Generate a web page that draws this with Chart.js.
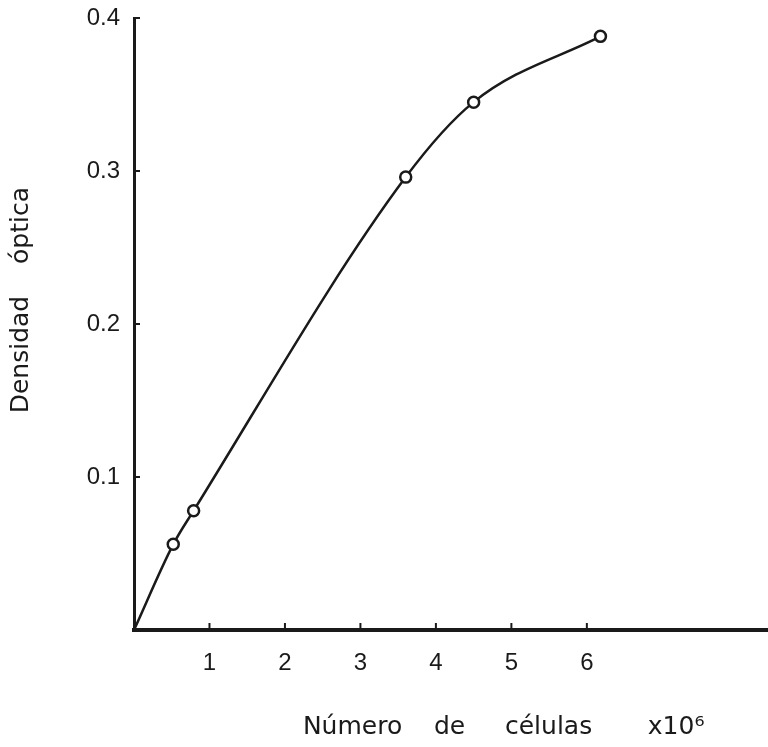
<!DOCTYPE html>
<html>
<head>
<meta charset="utf-8">
<script src="https://cdn.jsdelivr.net/npm/chart.js@4/dist/chart.umd.min.js"></script>
<style>
  html, body { margin: 0; padding: 0; background: #fff; }
  #wrap { width: 768px; height: 747px; position: relative; }
</style>
</head>
<body>
<div id="wrap"><canvas id="myChart"></canvas></div>
<script>
// values (x in millions of cells)
const cellCounts = [0, 0.52, 0.79, 3.6, 4.5, 6.18]
const opticalDensity = [0, 0.056, 0.078, 0.296, 0.345, 0.388]
const xTickLabels = [1, 2, 3, 4, 5, 6]
const yTickLabels = [0.1, 0.2, 0.3, 0.4]

const ink = '#1a1a1a'
const labelFont = { family: 'Liberation Sans', size: 24 }
const titleFont = { family: 'DejaVu Sans', size: 25 }

//small inward tick marks like on the paper graph
const inwardTicks = {
  id: 'inwardTicks',
  afterDraw(chart) {
    const ctx = chart.ctx
    const x = chart.scales.x
    const y = chart.scales.y
    ctx.save()
    ctx.strokeStyle = ink
    ctx.lineWidth = 2
    xTickLabels.forEach(v => {
      const px = x.getPixelForValue(v)
      ctx.beginPath()
      ctx.moveTo(px, y.bottom)
      ctx.lineTo(px, y.bottom - 7)
      ctx.stroke()
    })
    yTickLabels.forEach(v => {
      const py = y.getPixelForValue(v)
      ctx.beginPath()
      ctx.moveTo(x.left, py)
      ctx.lineTo(x.left + 6, py)
      ctx.stroke()
    })
    ctx.restore()
  }
}

const points = cellCounts.map((c, i) => ({ x: c, y: opticalDensity[i] }))

new Chart(document.getElementById('myChart'), {
  type: 'line',
  data: {
    datasets: [{
      data: points,
      borderColor: ink,
      borderWidth: 2.5,
      cubicInterpolationMode: 'monotone',
      pointRadius: [0, 5.5, 5.5, 5.5, 5.5, 5.5],
      pointBackgroundColor: '#fff',
      pointBorderColor: ink,
      pointBorderWidth: 2.5,
      clip: false
    }]
  },
  options: {
    responsive: true,
    maintainAspectRatio: false,
    animation: false,
    layout: { autoPadding: false, padding: { top: 18, right: 0, left: 0, bottom: 0 } },
    plugins: { legend: { display: false }, tooltip: { enabled: false } },
    scales: {
      x: {
        type: 'linear',
        min: 0,
        max: 8.4,
        afterFit: s => { s.height = 117; s.paddingRight = 0; s.paddingLeft = 0 },
        // invisible tick length pushes labels down without adding right padding
        grid: { display: true, drawOnChartArea: false, drawTicks: true, tickLength: 19, tickColor: 'rgba(0,0,0,0)' },
        border: { color: ink, width: 4 },
        ticks: {
          stepSize: 1,
          padding: 0,
          color: ink,
          font: labelFont,
          callback: v => xTickLabels.includes(v) ? v : ''
        },
        title: {
          display: true,
          text: 'Número    de     células       x10⁶        ',
          align: 'end',
          color: ink,
          font: titleFont,
          padding: { top: 0, bottom: 5 }
        }
      },
      y: {
        min: 0,
        max: 0.4,
        afterFit: s => { s.width = 134; s.paddingTop = 0; s.paddingBottom = 0 },
        grid: { display: false, drawTicks: false },
        border: { color: ink, width: 3 },
        ticks: {
          stepSize: 0.1,
          padding: 14,
          color: ink,
          font: labelFont,
          callback: v => {
            const r = Math.round(v * 10) / 10
            return yTickLabels.includes(r) ? r.toFixed(1) : ''
          }
        },
        title: {
          display: true,
          text: '      Densidad    óptica',
          color: ink,
          font: titleFont,
          padding: { top: 6, bottom: 0 }
        }
      }
    }
  },
  plugins: [inwardTicks]
})
</script>
</body>
</html>
